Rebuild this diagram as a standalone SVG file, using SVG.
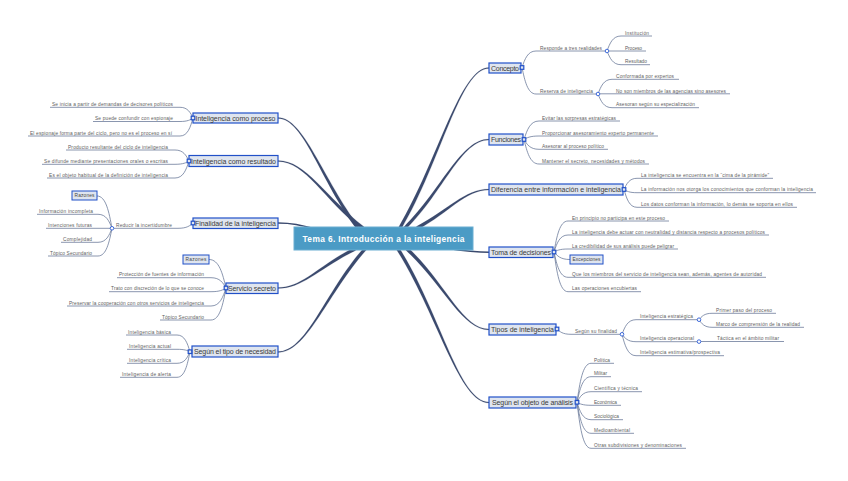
<svg xmlns="http://www.w3.org/2000/svg" width="848" height="481" viewBox="0 0 848 481">
<style>
.br{fill:#3b4a6e;stroke:#3b4a6e;stroke-width:0.15}
.bl{fill:none;stroke:#3b4a6e;stroke-width:1.5}
.ln{fill:none;stroke:#637394;stroke-width:0.75}
.tp rect{fill:#dfe5ef;stroke:#2150c8;stroke-width:1.2}
.tp text{font-family:"Liberation Sans",Arial,sans-serif;font-size:7px;fill:#3a3a3a;text-anchor:middle}
.sb text,.bx text{font-family:"Liberation Sans",Arial,sans-serif;font-size:4.8px;fill:#5e5e5e}
.bx rect{fill:#dfe5ef;stroke:#2150c8;stroke-width:1}
.bx text{text-anchor:middle;fill:#444}
.le text{text-anchor:end}
.hs{fill:#fff;stroke:#2a5bd7;stroke-width:0.9}
.ct rect{fill:#4b9bc5;stroke:#6aaed2;stroke-width:1}
.ct text{font-family:"Liberation Sans",Arial,sans-serif;font-size:8.4px;font-weight:bold;fill:#fff;text-anchor:middle}
</style>
<rect width="848" height="481" fill="#fff"/>
<g id="connectors">
<path class="br" d="M398.6,227.2 C438.6,159.2 460,67.5 489,67.5 L489,68.5 C460,68.5 441.4,160.8 401.4,228.8 Z"/>
<path class="br" d="M403.9,226.9 C441.9,188.9 461,139 489,139 L489,140 C461,140 444.1,191.1 406.1,229.1 Z"/>
<path class="br" d="M416.3,226.6 C448.3,209.6 465,189 489,189 L489,190 C465,190 449.8,212.4 417.8,229.4 Z"/>
<path class="br" d="M408.1,247.8 C445.1,281.8 462,329 489,329 L489,330 C462,330 442.9,284.2 405.9,250.2 Z"/>
<path class="br" d="M399.4,248.2 C440.4,313.2 459,402 489,402 L489,403 C459,403 437.7,314.9 396.7,249.9 Z"/>
<path class="br" d="M356.7,229 C320.7,182 304,118.5 278,118.5 L278,117.5 C304,117.5 323.3,180 359.3,227 Z"/>
<path class="br" d="M362,229.3 C324,200.3 306,161.5 278,161.5 L278,160.5 C306,160.5 326,197.7 364,226.7 Z"/>
<path class="br" d="M355.7,250.4 C320.7,267.4 303,288.5 278,288.5 L278,287.5 C303,287.5 319.3,264.6 354.3,247.6 Z"/>
<path class="br" d="M366.2,250.1 C327.2,294.1 307,352.5 278,352.5 L278,351.5 C307,351.5 324.8,291.9 363.8,247.9 Z"/>
<path class="bl" d="M316,229 C300,225 292,223 278,223"/>
<path class="bl" d="M445,248 C465,251 475,252.3 489,252.3"/>
<path class="ln" d="M193,118 C190.4,112.65 187.8,107.3 180,107.3 H50"/>
<path class="ln" d="M193,118 C190.4,119.75 187.8,121.5 180,121.5 H93"/>
<path class="ln" d="M193,118 C190.4,127 187.8,136 180,136 H28"/>
<path class="ln" d="M189,161 C186.2,155.5 183.4,150 175,150 H66"/>
<path class="ln" d="M189,161 C186.2,162.65 183.4,164.3 175,164.3 H42"/>
<path class="ln" d="M189,161 C186.2,169.5 183.4,178 175,178 H47"/>
<path class="ln" d="M193,223 C190,225.65 187,228.3 178,228.3 H112"/>
<path class="ln" d="M112,228.3 C109,212.15 106,196 97,196"/>
<path class="ln" d="M112,228.3 C109.2,221.3 106.4,214.3 98,214.3 H37"/>
<path class="ln" d="M112,228.3 H46"/>
<path class="ln" d="M112,228.3 C109.2,235.3 106.4,242.3 98,242.3 H61"/>
<path class="ln" d="M112,228.3 C109.2,242.15 106.4,256 98,256 H48"/>
<path class="ln" d="M226,288 C222.6,273.75 219.2,259.5 209,259.5"/>
<path class="ln" d="M226,288 C223,282.85 220,277.7 211,277.7 H117"/>
<path class="ln" d="M226,288 C223,289.85 220,291.7 211,291.7 H109"/>
<path class="ln" d="M226,288 C223,297 220,306 211,306 H67"/>
<path class="ln" d="M226,288 C223,304 220,320 211,320 H160"/>
<path class="ln" d="M190,351.7 C187.4,343.35 184.8,335 177,335 H126"/>
<path class="ln" d="M190,351.7 C187.4,350.5 184.8,349.3 177,349.3 H127"/>
<path class="ln" d="M190,351.7 C187.4,357.5 184.8,363.3 177,363.3 H127"/>
<path class="ln" d="M190,351.7 C187.4,364.5 184.8,377.3 177,377.3 H120"/>
<path class="ln" d="M522,67.5 C524.8,59.25 527.6,51 536,51 H607"/>
<path class="ln" d="M522,67.5 C524.8,80.75 527.6,94 536,94 H598"/>
<path class="ln" d="M607,51 C609.8,43.5 612.6,36 621,36 H652"/>
<path class="ln" d="M609,51 H646"/>
<path class="ln" d="M607,51 C609.8,57.85 612.6,64.7 621,64.7 H650"/>
<path class="ln" d="M598,94 C600.8,86.65 603.6,79.3 612,79.3 H679"/>
<path class="ln" d="M600,93.8 H730"/>
<path class="ln" d="M598,94 C600.8,100.85 603.6,107.7 612,107.7 H699"/>
<path class="ln" d="M524,139.5 C527,130.25 530,121 539,121 H620"/>
<path class="ln" d="M524,139.5 C527,137.75 530,136 539,136 H658"/>
<path class="ln" d="M524,139.5 C527,144.4 530,149.3 539,149.3 H608"/>
<path class="ln" d="M524,139.5 C527,151.75 530,164 539,164 H649"/>
<path class="ln" d="M624,189.5 C626.6,183.9 629.2,178.3 637,178.3 H773"/>
<path class="ln" d="M624,189.5 C626.6,191.1 629.2,192.7 637,192.7 H816"/>
<path class="ln" d="M624,189.5 C626.6,198.4 629.2,207.3 637,207.3 H797"/>
<path class="ln" d="M554,252 C556.8,236.5 559.6,221 568,221 H669"/>
<path class="ln" d="M554,252 C556.8,243.5 559.6,235 568,235 H769"/>
<path class="ln" d="M554,252 C556.8,250.5 559.6,249 568,249 H678"/>
<path class="ln" d="M554,252 C557.2,255.75 560.4,259.5 570,259.5"/>
<path class="ln" d="M554,252 C556.8,264.65 559.6,277.3 568,277.3 H766"/>
<path class="ln" d="M554,252 C556.8,271.85 559.6,291.7 568,291.7 H641"/>
<path class="ln" d="M557,329 C559.8,331.65 562.6,334.3 571,334.3 H622"/>
<path class="ln" d="M622,334.3 C624.8,327 627.6,319.7 636,319.7 H699"/>
<path class="ln" d="M622,334.3 C624.8,338 627.6,341.7 636,341.7 H699"/>
<path class="ln" d="M622,334.3 C624.8,345 627.6,355.7 636,355.7 H724"/>
<path class="ln" d="M699,319.7 C701.6,316.5 704.2,313.3 712,313.3 H776"/>
<path class="ln" d="M699,319.7 C701.6,323.5 704.2,327.3 712,327.3 H804"/>
<path class="ln" d="M701,341.5 H784"/>
<path class="ln" d="M577,402.3 C579.8,382.8 582.6,363.3 591,363.3 H614"/>
<path class="ln" d="M577,402.3 C579.8,389.5 582.6,376.7 591,376.7 H611"/>
<path class="ln" d="M577,402.3 C579.8,397 582.6,391.7 591,391.7 H642"/>
<path class="ln" d="M577,402.3 C579.8,403.8 582.6,405.3 591,405.3 H621"/>
<path class="ln" d="M577,402.3 C579.8,411 582.6,419.7 591,419.7 H623"/>
<path class="ln" d="M577,402.3 C579.8,417.8 582.6,433.3 591,433.3 H634"/>
<path class="ln" d="M577,402.3 C579.8,425.3 582.6,448.3 591,448.3 H686"/>
</g>
<g id="center" class="ct"><rect x="294" y="227" width="179" height="23"/><text x="383.5" y="241.6" textLength="162" lengthAdjust="spacing">Tema 6. Introducción a la inteligencia</text></g>

<g id="n-proceso" class="tp"><rect x="193" y="113" width="85" height="10"/><text x="235.5" y="120.5" textLength="80">Inteligencia como proceso</text><rect class="hs" x="191.2" y="116.2" width="3.6" height="3.6"/></g>
<g id="n-proceso-c" class="sb le">
<text x="173" y="106" textLength="121">Se inicia a partir de demandas de decisores políticos</text>
<text x="173" y="120.2" textLength="78">Se puede confundir con espionaje</text>
<text x="172" y="134.7" textLength="142">El espionaje forma parte del ciclo, pero no es el proceso en sí</text>
</g>

<g id="n-resultado" class="tp"><rect x="189" y="155.5" width="89" height="11"/><text x="233.5" y="163.5" textLength="85">Inteligencia como resultado</text><rect class="hs" x="187.2" y="159.2" width="3.6" height="3.6"/></g>
<g id="n-resultado-c" class="sb le">
<text x="168" y="148.7" textLength="100">Producto resultante del ciclo de inteligencia</text>
<text x="168" y="163" textLength="124">Se difunde mediante presentaciones orales o escritas</text>
<text x="168" y="176.7" textLength="119">Es el objeto habitual de la definición de inteligencia</text>
</g>

<g id="n-finalidad" class="tp"><rect x="193" y="218" width="85" height="10.5"/><text x="235.5" y="225.8" textLength="81">Finalidad de la inteligencia</text><rect class="hs" x="191.2" y="221.2" width="3.6" height="3.6"/></g>
<g id="n-reducir" class="sb"><text x="116" y="227" textLength="56">Reducir la incertidumbre</text><circle class="hs" cx="112" cy="228.3" r="1.8"/></g>
<g id="n-razones1" class="bx"><rect x="72" y="191" width="25" height="9"/><text x="84.5" y="197.4" textLength="20">Razones</text></g>
<g id="n-reducir-c" class="sb le">
<text x="93" y="213" textLength="54">Información incompleta</text>
<text x="92" y="227" textLength="44">Intenciones futuras</text>
<text x="92" y="241" textLength="29">Complejidad</text>
<text x="92" y="254.7" textLength="42">Tópico Secundario</text>
</g>

<g id="n-servicio" class="tp"><rect x="226" y="283" width="52" height="10.5"/><text x="252" y="290.8" textLength="48">Servicio secreto</text><rect class="hs" x="224.2" y="286.2" width="3.6" height="3.6"/></g>
<g id="n-razones2" class="bx"><rect x="183" y="255" width="26" height="9"/><text x="196" y="261.4" textLength="21">Razones</text></g>
<g id="n-servicio-c" class="sb le">
<text x="204" y="276.4" textLength="85">Protección de fuentes de información</text>
<text x="204" y="290.4" textLength="93">Trato con discreción de lo que se conoce</text>
<text x="204" y="304.7" textLength="135">Preservar la cooperación con otros servicios de inteligencia</text>
<text x="204" y="318.7" textLength="42">Tópico Secundario</text>
</g>

<g id="n-necesidad" class="tp"><rect x="192" y="346" width="86" height="11"/><text x="235" y="354" textLength="82">Según el tipo de necesidad</text><rect class="hs" x="188.2" y="349.9" width="3.6" height="3.6"/></g>
<g id="n-necesidad-c" class="sb le">
<text x="171" y="333.7" textLength="43">Inteligencia básica</text>
<text x="171" y="348" textLength="42">Inteligencia actual</text>
<text x="171" y="362" textLength="42">Inteligencia crítica</text>
<text x="171" y="376" textLength="49">Inteligencia de alerta</text>
</g>

<g id="n-concepto" class="tp"><rect x="489" y="63" width="32" height="10"/><text x="505" y="70.5" textLength="28">Concepto</text><rect class="hs" x="520.2" y="65.7" width="3.6" height="3.6"/></g>
<g id="n-concepto-c" class="sb">
<text x="540" y="49.7" textLength="62">Responde a tres realidades</text>
<text x="540" y="92.7" textLength="53">Reserva de inteligencia</text>
<circle class="hs" cx="607" cy="51" r="1.8"/>
<circle class="hs" cx="598" cy="94" r="1.8"/>
<text x="625" y="34.7" textLength="24">Institución</text>
<text x="625" y="49.7" textLength="17">Proceso</text>
<text x="625" y="63.4" textLength="22">Resultado</text>
<text x="616" y="78" textLength="58">Conformada por expertos</text>
<text x="616" y="92.5" textLength="110">No son miembros de las agencias sino asesores</text>
<text x="616" y="106.4" textLength="79">Asesoran según su especialización</text>
</g>

<g id="n-funciones" class="tp"><rect x="489" y="134" width="34" height="11"/><text x="506" y="142" textLength="30">Funciones</text><rect class="hs" x="522.2" y="137.7" width="3.6" height="3.6"/></g>
<g id="n-funciones-c" class="sb">
<text x="542" y="119.7" textLength="74">Evitar las sorpresas estratégicas</text>
<text x="542" y="134.7" textLength="112">Proporcionar asesoramiento experto permanente</text>
<text x="542" y="148" textLength="62">Asesorar al proceso político</text>
<text x="542" y="162.7" textLength="103">Mantener el secreto, necesidades y métodos</text>
</g>

<g id="n-diferencia" class="tp"><rect x="489" y="184" width="134" height="11"/><text x="556" y="192" textLength="130">Diferencia entre información e inteligencia</text><rect class="hs" x="622.2" y="187.7" width="3.6" height="3.6"/></g>
<g id="n-diferencia-c" class="sb">
<text x="641" y="177" textLength="128">La inteligencia se encuentra en la “cima de la pirámide”</text>
<text x="641" y="191.4" textLength="172">La información nos otorga los conocimientos que conforman la inteligencia</text>
<text x="641" y="206" textLength="152">Los datos conforman la información, lo demás se soporta en ellos</text>
</g>

<g id="n-toma" class="tp"><rect x="489" y="247" width="64" height="10.5"/><text x="521" y="254.8" textLength="60">Toma de decisiones</text><rect class="hs" x="552.2" y="250.2" width="3.6" height="3.6"/></g>
<g id="n-excepciones" class="bx"><rect x="570" y="255" width="33" height="9"/><text x="586.5" y="261.4" textLength="28">Excepciones</text></g>
<g id="n-toma-c" class="sb">
<text x="572" y="219.7" textLength="93">En principio no participa en este proceso</text>
<text x="572" y="233.7" textLength="193">La inteligencia debe actuar con neutralidad y distancia respecto a procesos políticos</text>
<text x="572" y="247.7" textLength="102">La credibilidad de sus análisis puede peligrar</text>
<text x="572" y="276" textLength="190">Que los miembros del servicio de inteligencia sean, además, agentes de autoridad</text>
<text x="572" y="290.4" textLength="65">Las operaciones encubiertas</text>
</g>

<g id="n-tipos" class="tp"><rect x="489" y="324" width="67" height="11"/><text x="522.5" y="332" textLength="63">Tipos de inteligencia</text><rect class="hs" x="555.2" y="327.2" width="3.6" height="3.6"/></g>
<g id="n-tipos-c" class="sb">
<text x="575" y="333" textLength="42">Según su finalidad</text>
<circle class="hs" cx="622" cy="334.3" r="1.8"/>
<text x="640" y="318.4" textLength="53">Inteligencia estratégica</text>
<text x="640" y="340.4" textLength="54">Inteligencia operacional</text>
<text x="640" y="354.4" textLength="80">Inteligencia estimativa/prospectiva</text>
<circle class="hs" cx="699" cy="319.7" r="1.8"/>
<circle class="hs" cx="699" cy="341.6" r="1.8"/>
<text x="716" y="312" textLength="56">Primer paso del proceso</text>
<text x="716" y="326" textLength="84">Marco de comprensión de la realidad</text>
<text x="717" y="340" textLength="62">Táctica en el ámbito militar</text>
</g>

<g id="n-objeto" class="tp"><rect x="489" y="397" width="87" height="11"/><text x="532.5" y="405" textLength="81">Según el objeto de análisis</text><rect class="hs" x="575.2" y="400.5" width="3.6" height="3.6"/></g>
<g id="n-objeto-c" class="sb">
<text x="594" y="362" textLength="16">Política</text>
<text x="594" y="375.4" textLength="13">Militar</text>
<text x="594" y="390.4" textLength="44">Científica y técnica</text>
<text x="594" y="404" textLength="23">Económica</text>
<text x="594" y="418.4" textLength="25">Sociológica</text>
<text x="594" y="432" textLength="36">Medioambiental</text>
<text x="594" y="447" textLength="88">Otras subdivisiones y denominaciones</text>
</g>
</svg>
